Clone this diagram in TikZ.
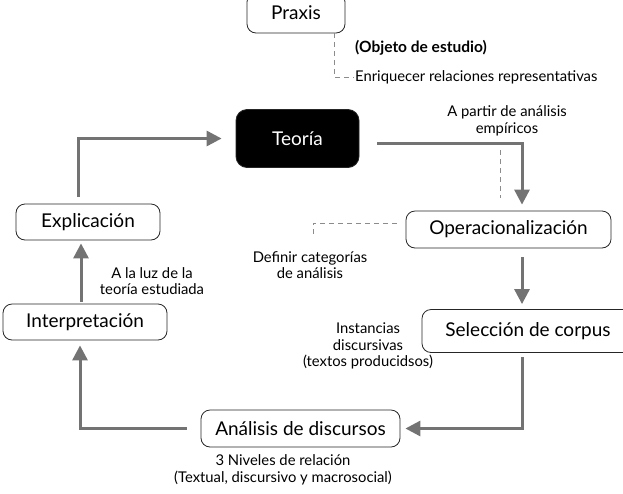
\documentclass[tikz,border=0pt]{standalone}
\usepackage{fontspec}
\setmainfont{Lato}
\usetikzlibrary{arrows.meta,calc}
\begin{document}
\begin{tikzpicture}[x=1pt,y=-1pt,
  box/.style={draw=black!85,line width=0.8pt,rounded corners=9pt,fill=white,inner sep=0pt,font=\fontsize{19}{22}\selectfont},
  darkbox/.style={box,fill=black,text=white,rounded corners=11pt},
  lbl/.style={font=\fontsize{14.8}{16.5}\selectfont,align=center,inner sep=1pt},
  arr/.style={draw=black!55,line width=3pt,-{Triangle[length=15pt,width=15pt]}},
  dsh/.style={draw=black!45,line width=0.9pt,dash pattern=on 5pt off 4pt}]
\useasboundingbox (0,0) rectangle (623,493);
\node[box,minimum width=98pt,minimum height=40pt] (praxis) at (296,13) {Praxis};
\node[darkbox,minimum width=123pt,minimum height=58pt] (teoria) at (297.5,138.5) {Teoría};
\node[box,minimum width=205pt,minimum height=37pt] (oper) at (508.5,229.5) {Operacionalización};
\node[box,minimum width=212pt,minimum height=43pt] (sel) at (528,331) {Selección de corpus};
\node[box,minimum width=199pt,minimum height=37pt] (ana) at (300.5,428.5) {Análisis de discursos};
\node[box,minimum width=164pt,minimum height=36pt] (interp) at (85,322) {Interpretación};
\node[box,minimum width=144pt,minimum height=36pt] (explic) at (88,222) {Explicación};
% labels
\node[lbl,anchor=west,font=\fontsize{15.5}{16.5}\selectfont\bfseries] (objeto) at (354,48) {(Objeto de estudio)};
\node[lbl,anchor=west] (enr) at (354,77) {Enriquecer relaciones representativas};
\node[lbl] (apartir) at (507,121) {A partir de análisis\\empíricos};
\node[lbl] (definir) at (310,265) {Definir categorías\\de análisis};
\node[lbl] (luz) at (152,281) {A la luz de la\\teoría estudiada};
\node[lbl] (inst) at (368,346) {Instancias\\discursivas\\(textos producidsos)};
\node[lbl] (niv) at (283,470) {3 Niveles de relación\\(Textual, discursivo y macrosocial)};
\coordinate (d1) at (500,150);
\coordinate (d2) at (313,237);
% dashed
\draw[dsh] ([xshift=38pt]praxis.south) |- (enr.west);
\draw[dsh] (d1) -- ([xshift=-8.5pt,yshift=13pt]oper.north);
\draw[dsh] ([xshift=-9pt,yshift=6.5pt]oper.west) -| (d2);
% arrows
\draw[arr,shorten <=18pt] ([yshift=-4.5pt]teoria.east) -| ([xshift=13.5pt,yshift=6pt]oper.north);
\draw[arr] ([xshift=13.5pt,yshift=-9pt]oper.south) -- ([xshift=-6pt,yshift=5pt]sel.north);
\draw[arr] ([xshift=-6pt,yshift=-4.5pt]sel.south) |- ([xshift=5pt]ana.east);
\draw[arr] ([xshift=-14pt]ana.west) -| ([xshift=-5pt,yshift=-5pt]interp.south);
\draw[arr] ([xshift=-4pt,yshift=2pt]interp.north) -- ([xshift=-7pt,yshift=-3pt]explic.south);
\draw[arr] ([xshift=-10pt,yshift=7pt]explic.north) |- ([xshift=-14pt]teoria.west);
\end{tikzpicture}
\end{document}
